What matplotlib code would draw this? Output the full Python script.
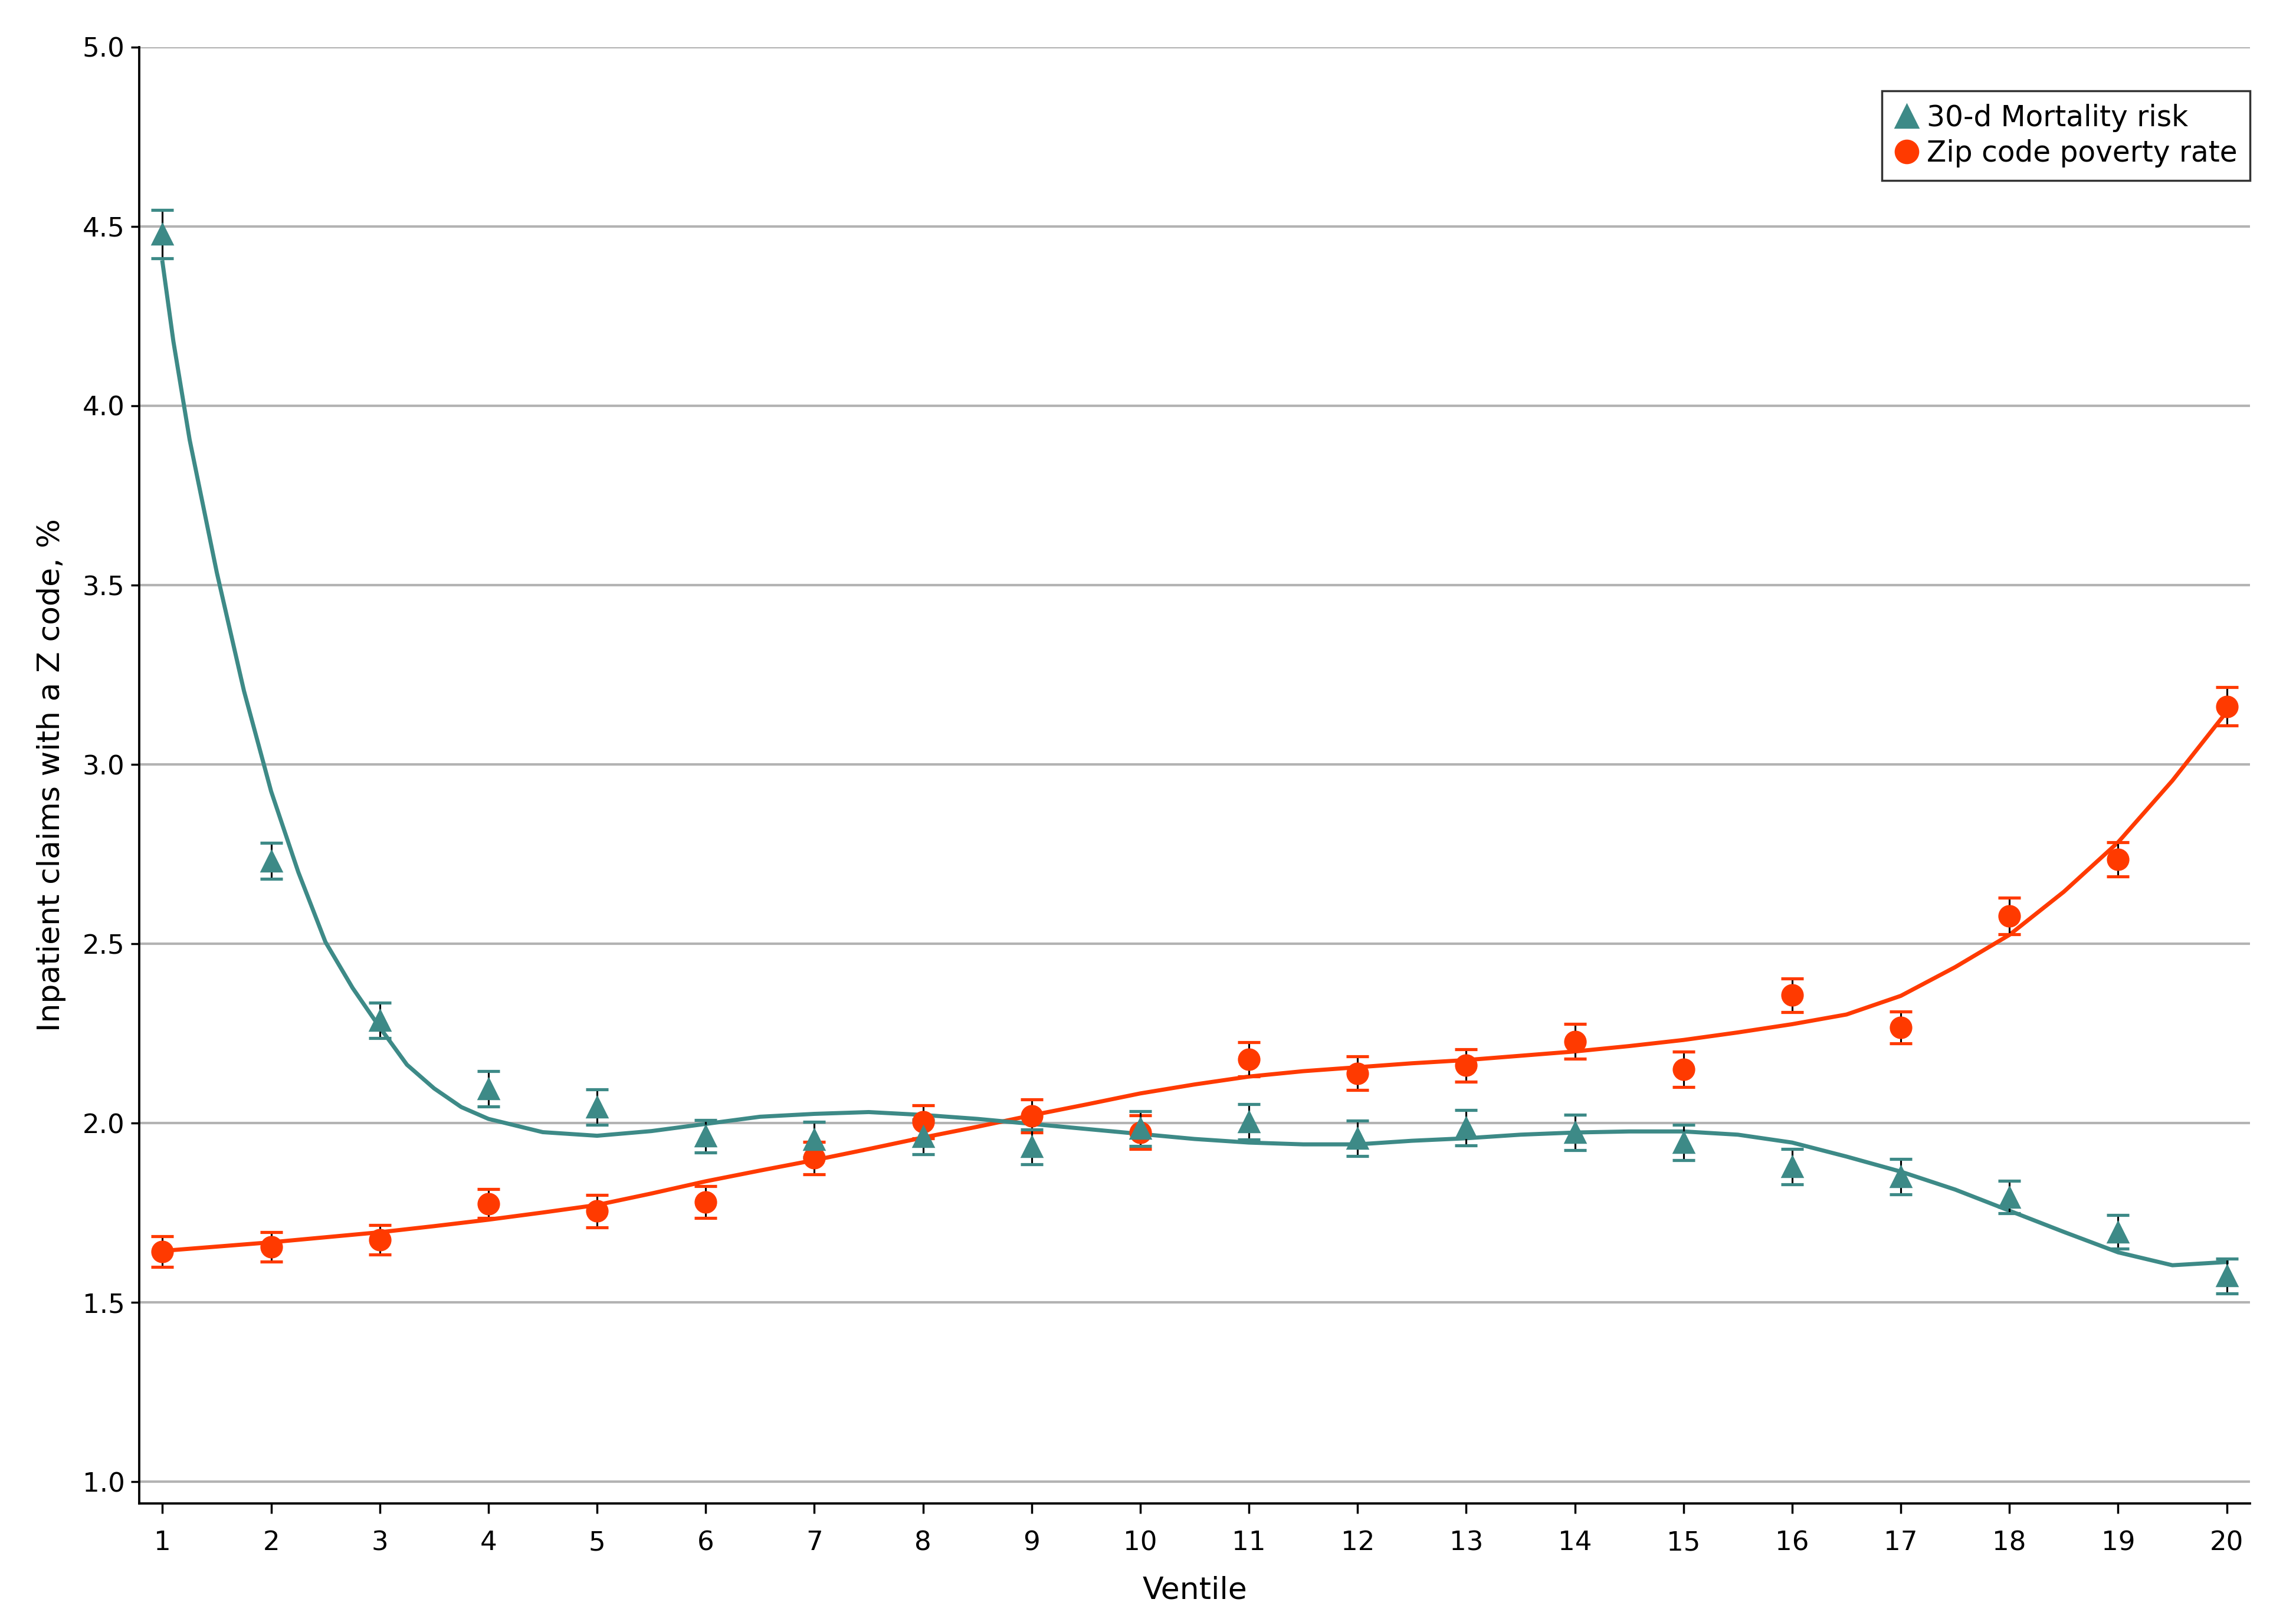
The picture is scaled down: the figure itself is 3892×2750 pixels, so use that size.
import numpy as np
import matplotlib
matplotlib.use("Agg")
import matplotlib.pyplot as plt
from matplotlib.lines import Line2D

TEAL = "#3d8a87"
RED = "#ff3a00"

ventile = list(range(1, 21))

# 30-d mortality risk 分组
mort = [4.478, 2.731, 2.287, 2.096, 2.045, 1.964, 1.954, 1.962, 1.934, 1.985,
        2.004, 1.958, 1.987, 1.974, 1.946, 1.879, 1.851, 1.794, 1.697, 1.574]
mort_err = [0.067, 0.050, 0.049, 0.049, 0.049, 0.045, 0.049, 0.049, 0.049, 0.049,
            0.049, 0.049, 0.049, 0.049, 0.049, 0.049, 0.049, 0.045, 0.047, 0.049]

# zip code poverty rate 分组
pov = [1.642, 1.655, 1.675, 1.776, 1.755, 1.780, 1.903, 2.004, 2.020, 1.975,
       2.178, 2.139, 2.161, 2.228, 2.150, 2.357, 2.267, 2.578, 2.735, 3.162]
pov_err = [0.043, 0.041, 0.041, 0.041, 0.045, 0.044, 0.045, 0.046, 0.046, 0.047,
           0.047, 0.047, 0.045, 0.049, 0.049, 0.047, 0.045, 0.051, 0.048, 0.053]

# 拟合曲线
mort_fit_x = [1, 1.1, 1.25, 1.5, 1.75, 2, 2.25, 2.5, 2.75, 3, 3.25, 3.5, 3.75, 4, 4.5, 5,
              5.5, 6, 6.5, 7, 7.5, 8, 8.5, 9, 9.5, 10, 10.5, 11, 11.5, 12, 12.5, 13,
              13.5, 14, 14.5, 15, 15.5, 16, 16.5, 17, 17.5, 18, 18.5, 19, 19.5, 20]
mort_fit_y = [4.40, 4.18, 3.905, 3.535, 3.205, 2.925, 2.70, 2.505, 2.377, 2.267, 2.163, 2.097,
              2.045, 2.012, 1.975, 1.965, 1.978, 1.998, 2.018, 2.026, 2.031, 2.023, 2.012,
              1.998, 1.984, 1.970, 1.956, 1.946, 1.941, 1.941, 1.951, 1.958, 1.968, 1.974,
              1.977, 1.977, 1.968, 1.946, 1.907, 1.865, 1.815, 1.756, 1.697, 1.640, 1.604,
              1.613]

pov_fit_x = [1, 1.5, 2, 2.5, 3, 3.5, 4, 4.5, 5, 5.5, 6, 6.5, 7, 7.5, 8, 8.5, 9, 9.5, 10,
             10.5, 11, 11.5, 12, 12.5, 13, 13.5, 14, 14.5, 15, 15.5, 16, 16.5, 17, 17.5,
             18, 18.5, 19, 19.5, 20]
pov_fit_y = [1.644, 1.656, 1.668, 1.682, 1.696, 1.713, 1.731, 1.751, 1.772, 1.804, 1.838,
             1.868, 1.897, 1.928, 1.960, 1.990, 2.022, 2.052, 2.083, 2.108, 2.130, 2.145,
             2.156, 2.167, 2.176, 2.188, 2.200, 2.215, 2.232, 2.253, 2.276, 2.303, 2.355,
             2.435, 2.525, 2.645, 2.783, 2.955, 3.147]

fig = plt.figure(figsize=(15.568, 11.0), dpi=250)
ax = fig.add_axes([0.0606, 0.0731, 0.9194, 0.8979])


def draw(x, y, err, fx, fy, color, marker):
    ax.plot(fx, fy, color=color, lw=2.0, zorder=3, solid_joinstyle="round")
    eb = ax.errorbar(x, y, yerr=err, fmt=marker, color=color, ms=10, mec=color,
                     ecolor="black", elinewidth=0.9, capsize=5.5, capthick=1.5, zorder=4)
    for cap in eb[1]:
        cap.set_color(color)
        cap.set_markeredgecolor(color)


draw(ventile, pov, pov_err, pov_fit_x, pov_fit_y, RED, "o")
draw(ventile, mort, mort_err, mort_fit_x, mort_fit_y, TEAL, "^")

ax.set_xlim(0.785, 20.215)
ax.set_ylim(0.94, 5.0)
ax.set_xticks(ventile)
ax.set_yticks(np.arange(1.0, 5.01, 0.5))
ax.yaxis.set_major_formatter(plt.FormatStrFormatter("%.1f"))
ax.grid(axis="y", color="#b3b3b3", lw=1.2, zorder=0)
ax.set_axisbelow(True)

for s in ["top", "right"]:
    ax.spines[s].set_visible(False)
for s in ["left", "bottom"]:
    ax.spines[s].set_linewidth(1.1)
ax.spines["left"].set_bounds(0.94, 5.0)

ax.tick_params(axis="y", length=4, width=1.0, labelsize=13, pad=3)
ax.tick_params(axis="x", length=5, width=1.0, labelsize=13, pad=8)

ax.set_xlabel("Ventile", fontsize=15, labelpad=10)
ax.set_ylabel("Inpatient claims with a Z code, %", fontsize=15, labelpad=8)

handles = [
    Line2D([], [], ls="none", marker="^", ms=11, color=TEAL, label="30-d Mortality risk"),
    Line2D([], [], ls="none", marker="o", ms=11, color=RED, label="Zip code poverty rate"),
]
leg = ax.legend(handles=handles, loc="upper right", bbox_to_anchor=(1.0, 0.97),
                borderaxespad=0, fontsize=14, frameon=True, fancybox=False,
                edgecolor="black", handlelength=0.8, handletextpad=0.3,
                borderpad=0.45, labelspacing=0.25)
leg.get_frame().set_linewidth(1.0)

fig.savefig("out.png", dpi=250)
